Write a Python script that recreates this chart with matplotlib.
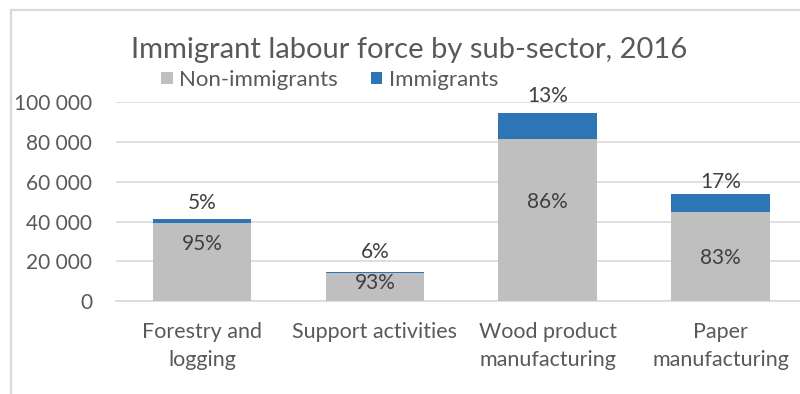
import matplotlib.pyplot as plt
from matplotlib.patches import Rectangle
from matplotlib.ticker import FuncFormatter

plt.rcParams['font.family'] = ['Lato', 'DejaVu Sans']

# labour force by sub-sector, 2016
sectors = ["Forestry and\nlogging", "Support activities",
           "Wood product\nmanufacturing", "Paper\nmanufacturing"]
non_immigrants = [39300, 14000, 81400, 44800]
immigrants = [2000, 900, 12900, 9200]
pct_non = ["95%", "93%", "86%", "83%"]
pct_imm = ["5%", "6%", "13%", "17%"]

# where the percentage labels sit (data units)
pct_non_y = [28700, 9300, 50000, 21600]
pct_imm_y = [49500, 24900, 103000, 60000]

grey = "#BFBFBF"
blue = "#2E75B6"
text_col = "#595959"
label_col = "#404040"
line_col = "#D9D9D9"

fig = plt.figure(figsize=(8, 3.94), dpi=100)

# outer chart frame
fig.patches.append(Rectangle((11 / 800, -0.1), 1.2, (394 - 10) / 394 + 0.1,
                             transform=fig.transFigure, fill=False,
                             edgecolor=line_col, linewidth=1.6))

ax = fig.add_axes([0.1446, 0.2353, 0.864, 0.5058])
x = range(len(sectors))
b1 = ax.bar(x, non_immigrants, width=0.57, color=grey, edgecolor="none",
            label="Non-immigrants", zorder=3)
b2 = ax.bar(x, immigrants, width=0.57, bottom=non_immigrants, color=blue,
            edgecolor="none", label="Immigrants", zorder=3)

ax.set_xlim(-0.5, 3.5)
ax.set_ylim(0, 100000)
ax.set_yticks(range(0, 100001, 20000))
ax.yaxis.set_major_formatter(FuncFormatter(lambda v, p: f"{int(v):,}".replace(",", " ")))
ax.set_xticks(list(x))
ax.set_xticklabels(sectors, fontsize=15.5, color=text_col, linespacing=1.5)
ax.tick_params(axis="y", labelsize=15, labelcolor=text_col, length=0, pad=17)
ax.tick_params(axis="x", length=0, pad=15)
ax.grid(axis="y", color=line_col, linewidth=1.2, zorder=0)
for s in ["top", "right", "left"]:
    ax.spines[s].set_visible(False)
ax.spines["bottom"].set_color(line_col)
ax.spines["bottom"].set_linewidth(1.2)

for i in x:
    ax.text(i, pct_non_y[i], pct_non[i], ha="center", va="center",
            fontsize=15, color=label_col, zorder=4)
    ax.text(i, pct_imm_y[i], pct_imm[i], ha="center", va="center",
            fontsize=15, color=label_col, zorder=4, clip_on=False)

fig.text(409 / 800, 1 - 50 / 394, "Immigrant labour force by sub-sector, 2016",
         ha="center", va="center", fontsize=21, color=text_col)
fig.legend(handles=[b1, b2], loc="center", bbox_to_anchor=(330 / 800, 1 - 80 / 394),
           ncol=2, frameon=False, fontsize=16, handlelength=0.5, handleheight=0.5,
           handletextpad=0.3, columnspacing=1.5, labelcolor=text_col,
           borderpad=0, borderaxespad=0)

fig.savefig("out.png", dpi=100)
